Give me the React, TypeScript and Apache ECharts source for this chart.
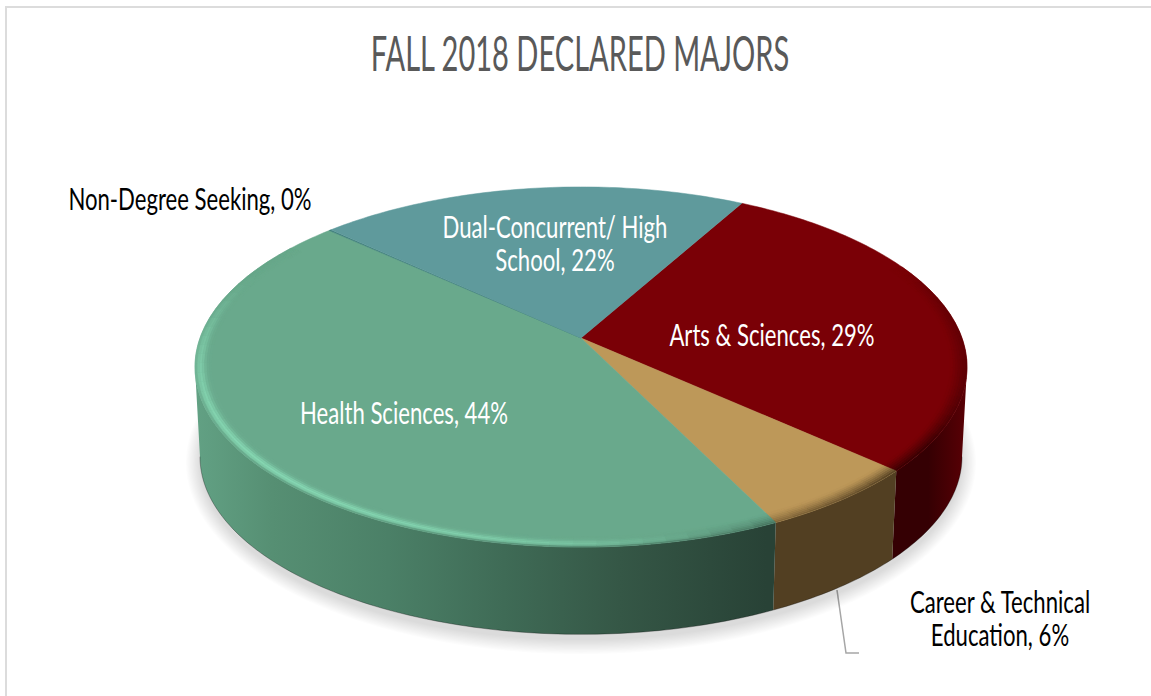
import React, { useEffect, useRef } from "react";
import * as echarts from "echarts";

const titleText = "FALL 2018 DECLARED MAJORS";
// clockwise from the first slice
const categories = ["Arts & Sciences", "Career & Technical\nEducation", "Health Sciences", "Non-Degree Seeking", "Dual-Concurrent/ High\nSchool"];
const values = [28.8, 6.0, 44.1, 0.1, 21.0];
const percentLabels = [29, 6, 44, 0, 22];
const faceColors = ["#7a0006", "#bd9859", "#69a98c", "#3f7f7a", "#5f9a9c"];
const labelColors = ["#ffffff", "#000000", "#ffffff", "#000000", "#ffffff"];

const FONT = "Lato, 'Liberation Sans', sans-serif";
const FIRST_ANGLE = -61.2;
const CX = 581, CY = 338, RX = 381, SY = 175.4, P = 0.161;
const DEPTH = 90, BOTTOM_SCALE = 0.987;
const X0 = 195, X1 = 967;
const WALL_STOPS: number[][][] = [
  [[0, 53, 0, 4], [0.95, 53, 0, 3], [1, 90, 0, 5]],
  [[0, 82, 63, 34], [1, 82, 63, 34]],
  [[0, 98, 161, 132], [0.1, 86, 143, 115], [0.25, 75, 128, 103], [0.4, 63, 107, 86], [0.55, 53, 87, 70], [0.74, 40, 66, 54], [1, 40, 66, 54]],
  [[0, 40, 70, 70], [1, 40, 70, 70]],
  [[0, 40, 70, 70], [1, 40, 70, 70]],
];
const LABEL_SPOTS = [
  [772, 335], [1000, 618], [404, 413], [190, 199], [555, 243],
];
const LABEL_SCALE_X = 0.738;
const LABEL_SIZE = 30;
const SHADOW_LAYERS = 12;

const hexToRgb = (h: string) => [1, 3, 5].map((i) => parseInt(h.slice(i, i + 2), 16));
const mix = (a: number[], b: number[], t: number) => a.map((v, i) => v + (b[i] - v) * t);
const css = (c: number[]) => `rgb(${c.map((v) => Math.round(Math.min(255, v))).join(",")})`;
const clamp = (v: number) => Math.max(0, Math.min(1, v));

function project(deg: number, r = 1, bottom = false) {
  const a = (deg * Math.PI) / 180;
  const c = Math.cos(a), s = Math.sin(a);
  const w = 1 - P * r * s;
  const k = bottom ? BOTTOM_SCALE : 1;
  return [CX + (RX * r * c * k) / w, CY + (bottom ? DEPTH : 0) + (SY * r * s * k) / w];
}
function sampleStops(stops: number[][], x: number) {
  const t = clamp((x - X0) / (X1 - X0));
  for (let i = 1; i < stops.length; i++) {
    if (t <= stops[i][0]) {
      const a = stops[i - 1], b = stops[i];
      return mix(a.slice(1), b.slice(1), (t - a[0]) / (b[0] - a[0] || 1));
    }
  }
  return stops[stops.length - 1].slice(1);
}
const norm = (d: number) => ((d + 90) % 360 + 360) % 360 - 90;
const total = values.reduce((a, b) => a + b, 0);

function sliceRange(i: number) {
  let start = FIRST_ANGLE;
  for (let k = 0; k < i; k++) start += (values[k] / total) * 360;
  return [start, start + (values[i] / total) * 360];
}
function rimFill(i: number, d: number, t: number, x: number) {
  const base = hexToRgb(faceColors[i]);
  const wall = sampleStops(WALL_STOPS[i], x);
  const L = Math.cos(((d - 135) * Math.PI) / 180);
  const fade = d < 10 ? clamp((d + 25) / 35) : clamp((215 - d) / 30);
  const hi = clamp((L - 0.3) / 0.7) * Math.exp(-Math.pow((t - 0.34) / 0.3, 2));
  const dark = clamp((0.75 - L) / 0.75) * Math.pow(1 - t, 1.3);
  const edge = clamp(1 - t / 0.25) * 0.6 * clamp((178 - d) / 25);
  let c = base.map((v) => v * (1 + 0.27 * hi * fade));
  c = mix(c, wall, clamp(Math.max(dark, edge)) * fade);
  return css(c);
}

const renderShadow = () => {
  const cyBottom = CY + DEPTH + 29;
  const children: any[] = [];
  for (let n = 0; n < SHADOW_LAYERS; n++) {
    const grow = 14 - (n * 14) / (SHADOW_LAYERS - 1);
    const pts: number[][] = [];
    for (let d = 0; d < 360; d += 2) {
      const p = project(d, 1, true);
      pts.push([
        CX + (p[0] - CX) * (1 + grow / 380),
        cyBottom + (p[1] - cyBottom) * (1 + grow / 180) + 6,
      ]);
    }
    children.push({ type: "polygon", shape: { points: pts }, style: { fill: "rgba(0,0,0,0.012)" }, silent: true });
  }
  return { type: "group", children };
};

const renderSlice = (params: any, api: any) => {
  const i = params.dataIndex;
  const v = api.value(0);
  const [a0] = sliceRange(i);
  const span = (v / total) * 360;
  const children: any[] = [];

  // side wall: only the part of the rim that faces the viewer
  const silhouette = (Math.asin(P) * 180) / Math.PI;
  const from = Math.max(norm(a0 + 1e-6), silhouette);
  const end = norm(a0 + 1e-6) + span;
  const to = Math.min(end, 180 - silhouette);
  if (to > from) {
    const topArc: number[][] = [], botArc: number[][] = [];
    const n = Math.max(2, Math.ceil(to - from));
    for (let k = 0; k <= n; k++) {
      const d = from + ((to - from) * k) / n;
      topArc.push(project(d));
      botArc.push(project(d, 1, true));
    }
    children.push({
      type: "polygon",
      z2: 1,
      shape: { points: [...topArc, ...botArc.slice().reverse()] },
      style: {
        fill: {
          type: "linear", x: X0, y: 0, x2: X1, y2: 0, global: true,
          colorStops: WALL_STOPS[i].map((s) => ({ offset: s[0], color: css(s.slice(1)) })),
        },
      },
    });
    children.push({
      type: "polyline",
      z2: 1,
      shape: { points: botArc },
      style: { stroke: "rgba(0,0,0,0.3)", lineWidth: 1, fill: "none" },
    });
  }

  // top face
  const face: number[][] = [[CX, CY]];
  const steps = Math.max(1, Math.ceil(span));
  for (let k = 0; k <= steps; k++) face.push(project(a0 + (span * k) / steps));
  children.push({
    type: "polygon",
    z2: 2,
    shape: { points: face },
    style: { fill: faceColors[i], stroke: faceColors[i], lineWidth: 0.5 },
  });

  // bevel along the rim
  const RADII = [1, 0.994, 0.988, 0.982, 0.976, 0.97, 0.964, 0.958];
  const segs = Math.max(1, Math.ceil(span / 3));
  if (span > 1) {
    for (let k = 0; k < segs; k++) {
      const d0 = a0 + (span * k) / segs;
      const d1 = a0 + (span * (k + 1)) / segs;
      const m = norm((d0 + d1) / 2);
      if (m < -25 || m > 215) continue;
      for (let r = 0; r < RADII.length - 1; r++) {
        const t = (r + 0.5) / (RADII.length - 1);
        const p0 = project(d0, RADII[r]), p1 = project(d1, RADII[r]);
        const p2 = project(d1, RADII[r + 1]), p3 = project(d0, RADII[r + 1]);
        const col = rimFill(i, m, t, (p0[0] + p1[0]) / 2);
        children.push({
          type: "polygon",
          z2: 3,
          shape: { points: [p0, p1, p2, p3] },
          style: { fill: col, stroke: col, lineWidth: 0.4 },
          silent: true,
        });
      }
    }
  }

  children.push({
    type: "text",
    z2: 10,
    x: LABEL_SPOTS[i][0],
    y: LABEL_SPOTS[i][1],
    scaleX: LABEL_SCALE_X,
    style: {
      text: `${categories[i]}, ${percentLabels[i]}%`,
      fill: labelColors[i],
      font: `${LABEL_SIZE}px ${FONT}`,
      align: "center",
      verticalAlign: "middle",
      lineHeight: 33,
    },
  });
  return { type: "group", children };
};

export default function App() {
  const ref = useRef<HTMLDivElement>(null);
  useEffect(() => {
    const chart = echarts.init(ref.current!, undefined, { renderer: "svg" });
    chart.setOption({
      animation: false,
      backgroundColor: "#ffffff",
      graphic: [
        { type: "rect", x: 5, y: 6, shape: { width: 1146, height: 2 }, style: { fill: "#dcdcdc" } },
        { type: "rect", x: 5, y: 6, shape: { width: 2, height: 690 }, style: { fill: "#dcdcdc" } },
        {
          type: "polyline",
          shape: { points: [[837, 590], [846, 653], [859, 653]] },
          style: { stroke: "#a6a6a6", lineWidth: 1.5, fill: "none" },
        },
        {
          type: "text",
          x: 580,
          y: 52,
          scaleX: 0.605,
          style: {
            text: titleText,
            fill: "#595959",
            font: `48px ${FONT}`,
            align: "center",
            verticalAlign: "middle",
          },
        },
      ],
      series: [
        { type: "custom", coordinateSystem: "none", silent: true, z: 1, data: [[1]], renderItem: renderShadow },
        { type: "custom", coordinateSystem: "none", silent: true, z: 2, data: values.map((v) => [v]), renderItem: renderSlice },
      ],
    });
    return () => chart.dispose();
  }, []);
  return <div ref={ref} style={{ position: "absolute", left: 0, top: 0, width: 1151, height: 696 }} />;
}
